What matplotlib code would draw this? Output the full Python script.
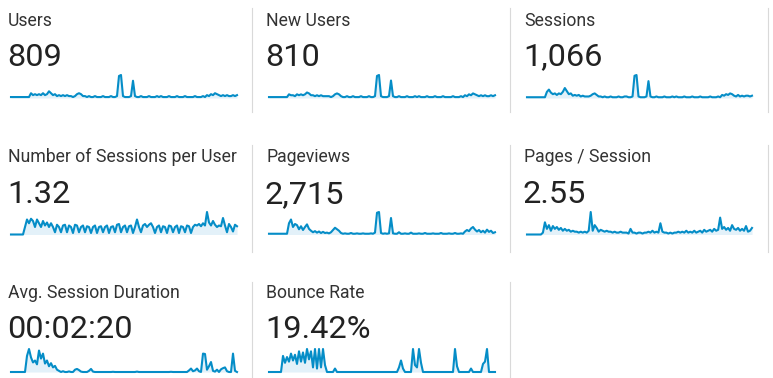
import matplotlib
matplotlib.use("Agg")
import matplotlib.pyplot as plt
from matplotlib.lines import Line2D

plt.rcParams['font.family'] = ['Roboto', 'DejaVu Sans']

# ---------------- data ----------------
labels = ["Users", "New Users", "Sessions",
          "Number of Sessions per User", "Pageviews", "Pages / Session",
          "Avg. Session Duration", "Bounce Rate"]
totals = ["809", "810", "1,066", "1.32", "2,715", "2.55", "00:02:20", "19.42%"]

users = [1, 1, 1, 1, 1, 1, 1, 1, 1, 1,
         5, 3, 4, 3, 4, 3, 5, 3, 4, 7, 5, 3, 4, 2, 3, 2, 3, 2, 3, 2, 2, 1, 2, 4, 5, 4,
         2, 2, 1, 2, 1, 1, 2, 1, 1, 1, 2, 1, 1, 1, 2, 1, 1, 2,
         23, 24, 2, 1, 1, 1, 2, 18,
         2, 1, 1, 2, 1, 1, 1, 2, 1, 1, 1, 2, 1, 2, 1, 1, 1, 2, 1, 1, 1, 2, 1, 1, 1, 2,
         1, 1, 1, 1, 2, 1, 1, 1, 2, 1,
         3, 2, 4, 3, 5, 4, 3, 2, 3, 2, 3, 2, 2, 3, 2, 3]

new_users = [1, 1, 1, 1, 1, 1, 1, 1, 1, 1,
             4, 3, 3, 2, 4, 3, 4, 3, 4, 6, 5, 3, 3, 2, 3, 2, 3, 2, 2, 2, 2, 1, 2, 4, 5, 4,
             2, 1, 1, 2, 1, 1, 2, 1, 1, 1, 2, 1, 1, 1, 2, 1, 1, 2,
             24, 25, 2, 1, 1, 1, 2, 19,
             2, 1, 1, 2, 1, 1, 1, 2, 1, 1, 1, 2, 1, 2, 1, 1, 1, 2, 1, 1, 1, 2, 1, 1, 1, 2,
             1, 1, 1, 1, 2, 1, 1, 1, 2, 1,
             3, 2, 4, 3, 5, 4, 3, 2, 3, 2, 3, 2, 2, 3, 2, 3]

sessions = [1, 1, 1, 1, 1, 1, 1, 1, 1, 1,
            8, 11, 7, 5, 6, 4, 6, 5, 8, 13, 9, 5, 6, 3, 4, 3, 4, 2, 3, 2, 2, 2, 3, 5, 6, 4,
            2, 2, 1, 2, 1, 1, 2, 1, 1, 1, 2, 1, 1, 2, 2, 1, 1, 2,
            29, 30, 2, 1, 1, 1, 2, 22,
            2, 1, 1, 2, 1, 1, 1, 2, 1, 1, 1, 2, 1, 2, 1, 1, 1, 2, 1, 1, 1, 2, 1, 1, 1, 2,
            1, 1, 1, 1, 2, 1, 1, 1, 2, 1,
            4, 3, 5, 4, 6, 5, 3, 2, 4, 2, 3, 2, 3, 3, 2, 3]

sessions_per_user = [0, 0, 0, 0, 0, 0, 0,
                     1, 2, 1.5, 2.1, 1.8, 1, 2, 1.5, 1, 1.8, 1.2, 1.6, 1, 1.5, 1,
                     0.3, 1.3, 1, 0.3, 1.2, 1.3, 0.3, 1.2, 1, 0.2, 1.3, 1.2, 0.3, 1, 1.2,
                     0.3, 1.1, 1, 0.2, 1, 1.2, 0.2, 1, 1.1, 0.3, 1, 1.2, 0.2, 1, 1.1,
                     0.3, 1.3, 1.4, 0.3, 1, 1.2, 0.3, 1.1, 1.2, 0.2, 1, 2, 1, 0.3, 1.2,
                     1.4, 1, 1.3, 1.5, 1, 0.2, 1, 1.2, 0.3, 1.1, 1, 0.2, 1.2, 1.1, 0.3,
                     1, 1.2, 0.2, 1.1, 1, 0.3, 1.2, 1.1, 0.2, 1, 1.3, 1.2, 1.4, 1.1, 1.5,
                     1.2, 3, 1.6, 1.2, 1.8, 1.3, 1, 1.2, 1.1, 2.2, 1.2, 0.3, 1.4, 1,
                     0.4, 1.3, 1.1]

pageviews = [2, 2, 2, 2, 2, 2, 2, 2, 2, 2,
             30, 40, 20, 28, 25, 14, 22, 12, 20, 27, 15, 10, 6, 9, 5, 8, 4, 7, 4,
             5, 3, 6, 12, 18, 14, 10, 4,
             2, 3, 2, 2, 4, 2, 2, 3, 2, 2, 3, 2, 2, 2, 3, 2,
             5, 58, 60, 4, 2, 3, 2, 3, 44, 3,
             2, 2, 6, 2, 2, 3, 2, 2, 5, 2, 2, 2, 3, 2, 2, 4, 2, 2, 2, 3, 2, 2, 2,
             4, 2, 2, 2, 3, 2, 2, 4, 2, 2, 3, 2,
             8, 12, 9, 16, 20, 13, 8, 12, 6, 10, 5, 13, 7, 10, 4, 6]

pages_per_session = [0, 0, 0, 0, 0, 0, 0, 0,
                     1, 6.5, 3, 5, 2, 4.5, 3, 4, 2.5, 3.5, 2, 3, 2, 2.5, 1.5, 2, 1.5,
                     1.5, 1, 1.5, 1, 1.5, 1, 2, 12, 2, 5, 3.5, 1.5, 2.5, 2, 1.5, 2,
                     1.5, 1.5, 1, 1.5, 1, 1, 1.5, 1, 1, 1, 0.5, 3, 1, 1, 0.5, 1, 1,
                     0.5, 1, 1, 1.5, 1, 2, 1, 1.5, 1, 6, 1.5, 1, 1, 0.5, 1, 0.5, 1, 1,
                     1.5, 1, 1.5, 1, 2, 1, 1.5, 1, 2, 1, 1.5, 2, 1, 2.5, 1.5, 2, 2.5,
                     1.5, 3, 2, 2.5, 9, 3, 4, 2.5, 3.5, 2, 5, 3, 2.5, 3.5, 2, 3, 2,
                     4.5, 1.5, 2, 3.5]

avg_session_duration = [0, 0, 0, 0, 0, 0, 0, 0,
                        420, 600, 380, 250, 300, 200, 560, 350, 480, 220, 300, 150,
                        230, 120, 160, 60, 30, 0, 20, 0, 0, 15, 0, 0, 60, 80, 50, 10,
                        0, 0, 0, 30, 80, 10,
                        0, 0, 0, 0, 0, 0, 0, 0, 0, 5, 0, 0, 0, 0, 0, 0, 0, 0, 0, 0,
                        0, 10, 0, 0, 0, 0, 0, 0, 0, 0, 0, 0, 0, 0, 0, 0, 0, 0, 5, 0,
                        0, 0, 0, 0, 0, 0, 0,
                        40, 90, 20, 40, 90, 20, 0, 480, 470, 60, 150, 260, 30, 10,
                        60, 0, 70, 100, 120, 20, 0, 0, 480, 30, 0]

bounce_rate = [0, 0, 0, 0, 0, 0, 0,
               70, 40, 65, 45, 80, 50, 75, 35, 90, 45, 85, 40, 100, 55, 90, 20, 100,
               15, 100, 20, 100, 30, 0, 0, 0, 0, 15, 0,
               0, 0, 0, 0, 0, 0, 0, 0, 0, 0, 0, 0, 0, 0, 0, 0, 0, 0, 0, 0, 0, 0, 0,
               0, 0, 0, 0, 0, 0, 0,
               20, 50, 15, 0, 0, 0, 0, 100, 30, 20, 100, 40, 0,
               0, 0, 0, 0, 0, 0, 0, 0, 0, 0, 0, 0, 0, 0, 0,
               100, 25, 0, 0, 0, 0, 0, 0, 15, 0, 0, 0, 0, 0, 35, 45, 100, 0, 0, 0, 0]

series = [users, new_users, sessions, sessions_per_user, pageviews,
          pages_per_session, avg_session_duration, bounce_rate]

# ---------------- layout ----------------
W, H = 773, 378
fig = plt.figure(figsize=(W / 100, H / 100), dpi=100)
fig.patch.set_facecolor("white")

col_text_x = [8, 266, 524]
col_spark = [(11, 237), (269, 495), (527, 752)]
row_label_base = [25.5, 162, 298.5]
row_value_base = [65.5, 203, 338.5]
row_spark = [(75, 98), (212, 234.5), (349, 372)]

LINE = "#058dc7"
FILL = "#e3f1f9"


def fx(x):
    return x / W


def fy(y):
    return 1 - y / H


for k, (lab, tot, vals) in enumerate(zip(labels, totals, series)):
    r, c = divmod(k, 3)
    fig.text(fx(col_text_x[c]), fy(row_label_base[r]), lab, fontsize=12.7,
             color="#333333", va="baseline", ha="left")
    fig.text(fx(col_text_x[c] - 1), fy(row_value_base[r]), tot, fontsize=23.4,
             color="#222222", va="baseline", ha="left")
    x0, x1 = col_spark[c]
    yt, yb = row_spark[r]
    ax = fig.add_axes([fx(x0), fy(yb), (x1 - x0) / W, (yb - yt) / H])
    xs = list(range(len(vals)))
    ax.fill_between(xs, vals, 0, color=FILL, lw=0, clip_on=False)
    ax.plot(xs, vals, color=LINE, lw=1.5, clip_on=False, solid_joinstyle="round")
    ax.set_xlim(0, len(vals) - 1)
    ax.set_ylim(0, max(vals))
    ax.axis("off")

# dividers
div_x = [251.5, 509.5, 767.5]
div_rows = [(8, 112), (145, 252), (282, 378)]
for r, (y0, y1) in enumerate(div_rows):
    for c, xx in enumerate(div_x):
        if r == 2 and c == 2:
            continue
        fig.add_artist(Line2D([fx(xx), fx(xx)], [fy(y0), fy(y1)],
                              color="#d9d9d9", lw=0.8))

fig.savefig("out.png", dpi=100, facecolor="white")
